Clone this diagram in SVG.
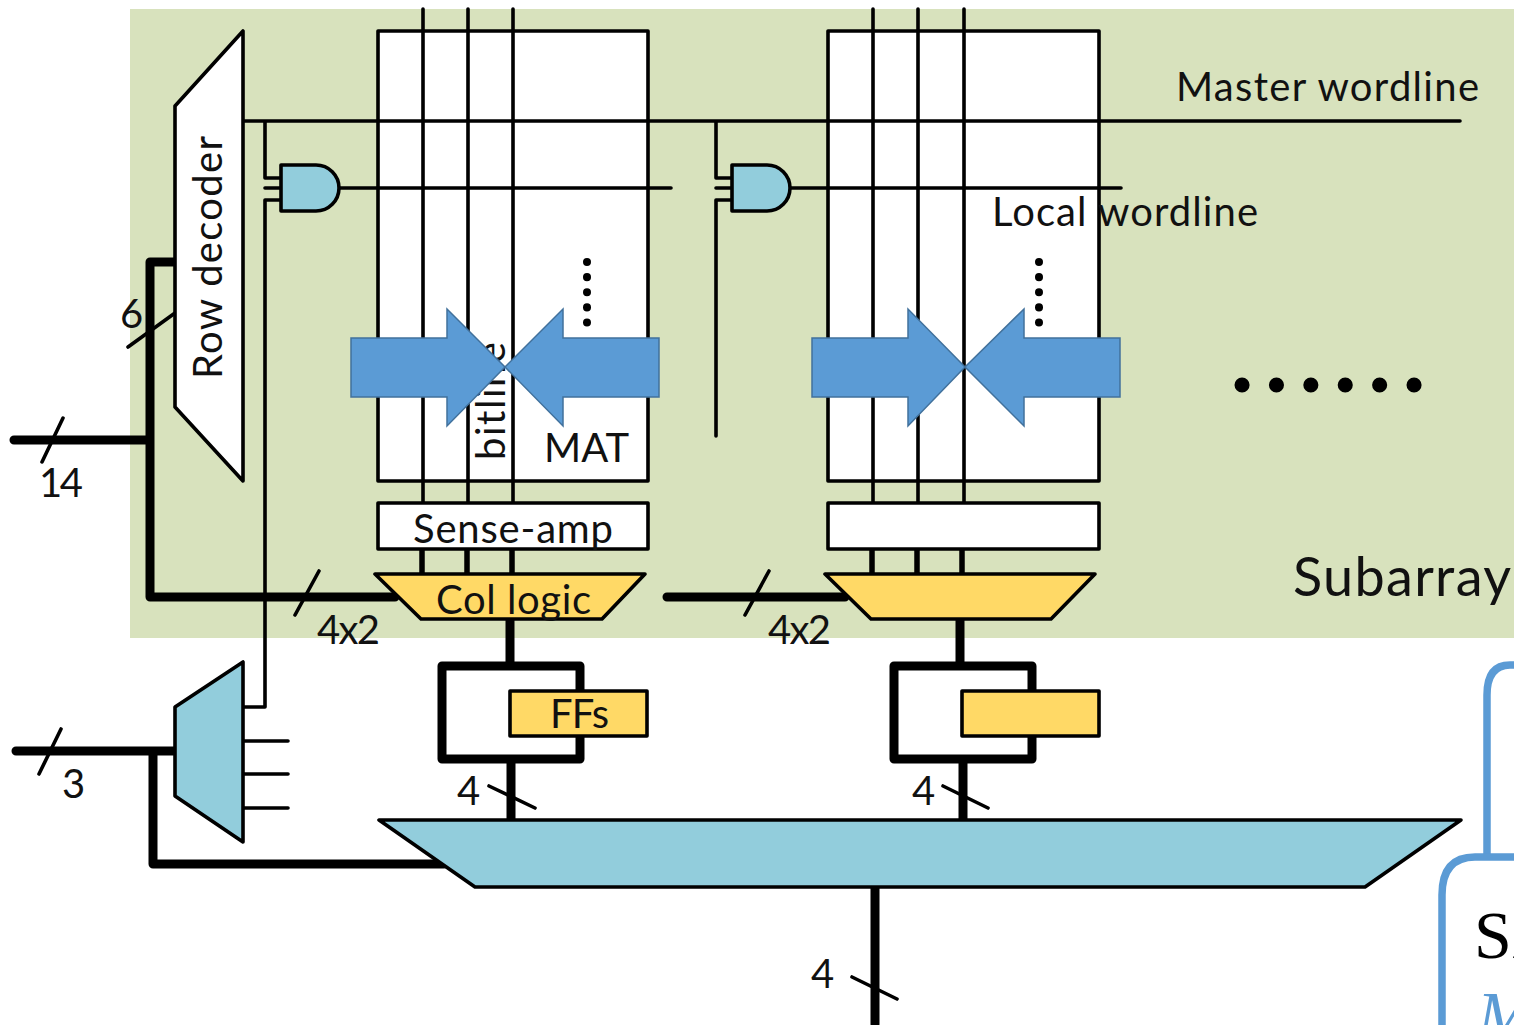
<svg xmlns="http://www.w3.org/2000/svg" width="1514" height="1025" viewBox="0 0 1514 1025">
<style>
.t{font-family:"Lato","Open Sans",sans-serif;fill:#111;font-size:40px}
.n{fill:none;stroke:#000;stroke-width:3.6;stroke-linecap:round;stroke-linejoin:round}
.w{fill:#fff;stroke:#000;stroke-width:3.6;stroke-linejoin:round}
.y{fill:#ffd966;stroke:#000;stroke-width:3.6;stroke-linejoin:round}
.b{fill:#92cddc;stroke:#000;stroke-width:3.6;stroke-linejoin:round}
.k{fill:none;stroke:#000;stroke-width:9;stroke-linecap:round;stroke-linejoin:round}
.a{fill:#5b9bd5;stroke:#41719c;stroke-width:1.5}
.d{fill:none;stroke:#000;stroke-width:8;stroke-linecap:round;stroke-dasharray:.1 15}
</style>
<rect width="1514" height="1025" fill="#fff"/>
<rect id="subarray" x="130" y="9" width="1384" height="629" fill="#d8e2bd"/>
<g id="panel-right">
<path d="M1518 665H1510Q1487 665 1487 695V857" fill="none" stroke="#5b9bd5" stroke-width="7.5"/>
<path d="M1518 857H1475Q1442 857 1442 895V1030" fill="none" stroke="#5b9bd5" stroke-width="7.5"/>
<text x="1474" y="958" font-family="Liberation Serif,serif" font-size="68" fill="#000">Si</text>
<text x="1477" y="1038" font-family="Liberation Serif,serif" font-style="italic" font-size="68" fill="#5b9bd5">M</text>
</g>
<g id="mat1"><rect class="w" x="378" y="31" width="270" height="450"/><text class="t" x="544" y="462" textLength="85">MAT</text></g>
<g id="mat2"><rect class="w" x="828" y="31" width="271" height="450"/></g>
<g id="bitline-label"><text class="t" transform="translate(505 460) rotate(-90)" textLength="118">bitline</text></g>
<g id="connectors">
<path class="n" d="M423 9V503M468 9V503M513 9V503M873 9V503M918 9V503M964 9V503"/>
<path class="n" d="M243 121H1460M265 121V178H281M265 188H281M281 200H265V707H243M716 121V178H732M716 188H732M732 200H716V436M340 188H671M791 188H1121"/>
<path class="n" d="M243 741H288M243 774H288M243 808H288"/>
<path fill="none" stroke="#000" stroke-width="5.5" d="M422 550V573M467 550V573M512 550V573M872 550V573M917 550V573M962 550V573"/>
<path class="k" d="M14 440H150M150 262V597H395M150 262H175M667 597H845"/>
<path class="k" d="M16 751H176M153 751V864H444"/>
<path class="k" d="M510 620V666M442 666H580V759H442ZM511 759V820M960 620V666M894 666H1032V759H894ZM963 759V820M875 887V1024"/>
<path class="n" d="M128 347L175 313M42 462L63 418M295 615L319 571M745 615L769 571M39 774L61 729M489 786L535 808M943 786L988 808M852 977L897 999"/>
</g>
<g id="row-decoder"><path class="w" d="M243 31V481L175 407V106Z"/><text class="t" transform="translate(222 379) rotate(-90)" textLength="243">Row decoder</text></g>
<g id="and1"><path class="b" d="M281 165H316A23 23 0 0 1 316 211H281Z"/></g>
<g id="and2"><path class="b" d="M732 165H767A23 23 0 0 1 767 211H732Z"/></g>
<g id="sense1"><rect class="w" x="378" y="503" width="270" height="46"/><text class="t" x="413" y="543" textLength="200">Sense-amp</text></g>
<g id="sense2"><rect class="w" x="828" y="503" width="271" height="46"/></g>
<g id="col1"><path class="y" d="M375 574H645L602 619H421Z"/><text class="t" x="436" y="614" textLength="155">Col logic</text></g>
<g id="col2"><path class="y" d="M825 574H1095L1051 619H871Z"/></g>
<g id="ff1"><rect class="y" x="510" y="691" width="137" height="45"/><text class="t" x="550" y="728" textLength="59">FFs</text></g>
<g id="ff2"><rect class="y" x="962" y="691" width="137" height="45"/></g>
<g id="mux-left"><path class="b" d="M243 662V842L175 796V707Z"/></g>
<g id="mux-bottom"><path class="b" d="M379 820H1461L1365 887H475Z"/></g>
<g id="arrows">
<path class="a" d="M351 338H447V309L505 367L447 426V397H351Z"/>
<path class="a" d="M659 338H563V309L505 367L563 426V397H659Z"/>
<path class="a" d="M812 338H908V309L965 367L908 426V397H812Z"/>
<path class="a" d="M1120 338H1024V309L965 367L1024 426V397H1120Z"/>
</g>
<g id="dots">
<path class="d" d="M587 262V325M1039 262V325"/>
<path fill="none" stroke="#000" stroke-width="15" stroke-linecap="round" stroke-dasharray=".1 34.3" d="M1242 385H1418"/>
</g>
<g id="labels">
<text class="t" x="1176" y="101" textLength="303">Master wordline</text>
<text class="t" x="992" y="226" textLength="266">Local wordline</text>
<text class="t" x="1293" y="596" style="font-size:54px" textLength="218">Subarray</text>
<text class="t" x="120" y="328">6</text>
<text class="t" x="39" y="497" textLength="44">14</text>
<text class="t" x="62" y="798">3</text>
<text class="t" x="317" y="644" textLength="63">4x2</text>
<text class="t" x="768" y="644" textLength="63">4x2</text>
<text class="t" x="457" y="805">4</text>
<text class="t" x="912" y="805">4</text>
<text class="t" x="811" y="988">4</text>
</g>
</svg>
